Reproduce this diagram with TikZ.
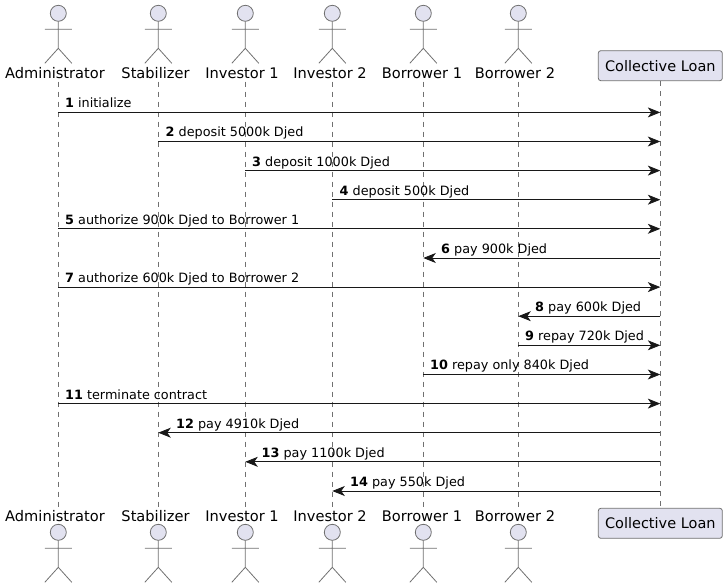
\documentclass[tikz,border=0pt]{standalone}
\usepackage{fontspec}
\setmainfont{DejaVu Sans}
\usetikzlibrary{arrows.meta}
\definecolor{partfill}{HTML}{E2E2F0}
\definecolor{partline}{HTML}{707070}
\definecolor{msgline}{HTML}{181818}
\tikzset{
  x=1pt,y=-1pt,
  figure/.style={draw=partline,line width=0.8pt,fill=partfill},
  limb/.style={draw=partline,line width=0.8pt},
  actorname/.style={inner sep=0pt,text height=10.5pt,text depth=3pt,font=\fontsize{14.6}{16}\selectfont,text=black},
  partbox/.style={draw=partline,line width=0.8pt,fill=partfill,rounded corners=2.5pt,minimum width=124pt,minimum height=30pt,inner sep=0pt,font=\fontsize{14.5}{16}\selectfont,text=black},
  lifeline/.style={draw=partline,line width=0.8pt,dash pattern=on 5pt off 5pt},
  message/.style={draw=msgline,line width=0.8pt,-{Stealth[length=12.5pt,width=10pt,inset=3.5pt]}},
  msglabel/.style={inner sep=0pt,anchor=base west,font=\fontsize{12.8}{15}\selectfont,text=black},
}
\newcommand{\stick}[2]{% x, head y
  \path[figure] (#1,#2) circle[radius=8];
  \draw[limb] (#1,#2+8) -- (#1,#2+35) (#1-13.5,#2+16) -- (#1+13.5,#2+16)
    (#1-13.5,#2+50) -- (#1,#2+35) -- (#1+13.5,#2+50);
}
\newcommand{\actor}[4]{% name, x, label centre x, label
  \stick{#2}{13.3}
  \node[actorname] (#1name) at (#3,74.8) {#4};
  \node[actorname] (#1nameb) at (#3,517.8) {#4};
  \stick{#2}{532.3}
  \coordinate (#1top) at (#2,81.7);
  \coordinate (#1bot) at (#2,506.7);
  \draw[lifeline] (#1top) -- (#1bot);
}
\newcommand{\msg}[6]{% from, to, y, label x, number, text
  \coordinate (m#5a) at (#1top |- 0,#3);
  \coordinate (m#5b) at (#2top |- 0,#3);
  \draw[message] (m#5a) -- (m#5b);
  \node[msglabel] (l#5) at (#4,#3-4.6) {\textbf{#5} #6};
}
\begin{document}
\begin{tikzpicture}
\useasboundingbox (0,0) rectangle (727,588);
\actor{ad}{58.3}{55}{Administrator}
\actor{st}{158.3}{155.5}{Stabilizer}
\actor{ia}{245.3}{242}{Investor 1}
\actor{ib}{332.3}{330}{Investor 2}
\actor{ba}{423.3}{422}{Borrower 1}
\actor{bb}{518.3}{515}{Borrower 2}
\node[partbox] (cltop) at (660.3,65.7) {Collective Loan};
\node[partbox] (clbot) at (660.3,523.3) {Collective Loan};
\draw[lifeline] (cltop.south) -- (clbot.north);
\msg{ad}{cl}{112.4}{65}{1}{initialize}
\msg{st}{cl}{141.5}{165.5}{2}{deposit 5000k Djed}
\msg{ia}{cl}{170.6}{252}{3}{deposit 1000k Djed}
\msg{ib}{cl}{199.7}{339.5}{4}{deposit 500k Djed}
\msg{ad}{cl}{228.8}{65}{5}{authorize 900k Djed to Borrower 1}
\msg{cl}{ba}{258}{441}{6}{pay 900k Djed}
\msg{ad}{cl}{287.1}{65}{7}{authorize 600k Djed to Borrower 2}
\msg{cl}{bb}{316.2}{535}{8}{pay 600k Djed}
\msg{bb}{cl}{345.3}{525}{9}{repay 720k Djed}
\msg{ba}{cl}{374.5}{430}{10}{repay only 840k Djed}
\msg{ad}{cl}{403.6}{65}{11}{terminate contract}
\msg{cl}{st}{432.7}{176}{12}{pay 4910k Djed}
\msg{cl}{ia}{461.8}{261.5}{13}{pay 1100k Djed}
\msg{cl}{ib}{491}{350}{14}{pay 550k Djed}
\end{tikzpicture}
\end{document}
